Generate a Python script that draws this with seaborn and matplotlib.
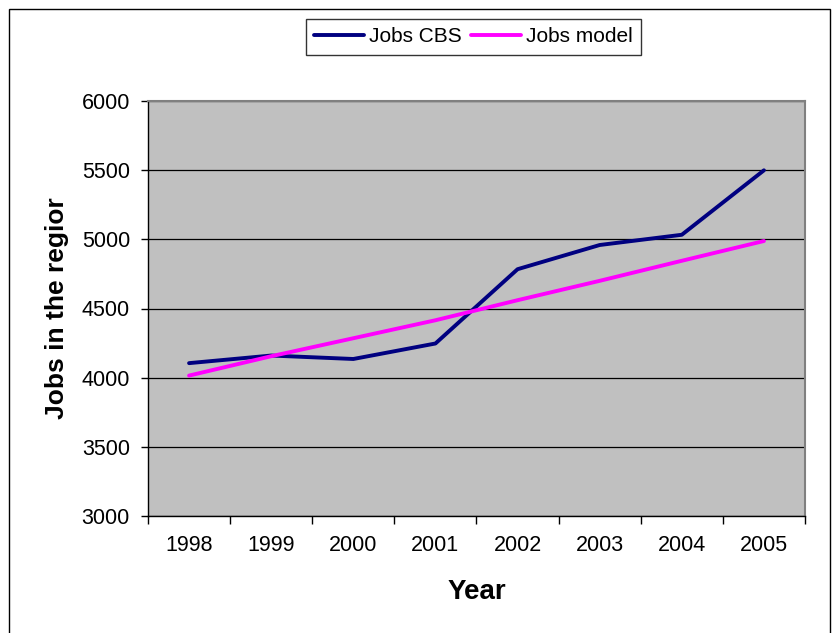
import matplotlib
matplotlib.use("Agg")
import matplotlib.pyplot as plt
import seaborn as sns
import pandas as pd
from matplotlib.patches import Rectangle

years = ["1998", "1999", "2000", "2001", "2002", "2003", "2004", "2005"]
jobs_cbs = [4105, 4160, 4135, 4247, 4784, 4959, 5033, 5499]
jobs_model = [4015, 4155, 4285, 4415, 4560, 4700, 4845, 4988]
series_names = ["Jobs CBS", "Jobs model"]
y_ticks = [3000, 3500, 4000, 4500, 5000, 5500, 6000]

df = pd.DataFrame({
    "Year": years * 2,
    "Jobs": jobs_cbs + jobs_model,
    "Series": [series_names[0]] * len(years) + [series_names[1]] * len(years),
})

sns.set_style("white")
plt.rcParams["font.family"] = ["Liberation Sans", "DejaVu Sans"]
plt.rcParams["text.color"] = "black"
plt.rcParams["axes.labelcolor"] = "black"
plt.rcParams["xtick.color"] = "black"
plt.rcParams["ytick.color"] = "black"

fig = plt.figure(figsize=(8.37, 6.33), dpi=100)
ax = fig.add_axes([148 / 837, 1 - 516 / 633, (805 - 148) / 837, (516 - 101) / 633])
ax.set_facecolor("#C0C0C0")

sns.lineplot(data=df, x="Year", y="Jobs", hue="Series",
             palette={"Jobs CBS": "#000080", "Jobs model": "#FF00FF"},
             linewidth=2.8, sort=False, ax=ax)

ax.set_xlim(-0.5, len(years) - 0.5)
ax.set_ylim(3000, 6000)
ax.set_yticks(y_ticks)
ax.yaxis.grid(True, color="black", linewidth=0.9)
ax.set_axisbelow(True)

# category boundaries get ticks, labels sit in the middle
ax.set_xticks([i - 0.5 for i in range(len(years) + 1)])
ax.set_xticklabels([])
ax.set_xticks(range(len(years)), minor=True)
ax.set_xticklabels(years, minor=True, fontsize=15.5)
ax.tick_params(axis="x", which="major", direction="out", length=6, width=1, bottom=True)
ax.tick_params(axis="x", which="minor", length=0, pad=14)
ax.tick_params(axis="y", direction="out", length=5, width=1, left=True, labelsize=15.5, pad=8)

for side in ["top", "right"]:
    ax.spines[side].set_color("#808080")
    ax.spines[side].set_linewidth(1.5)
for side in ["left", "bottom"]:
    ax.spines[side].set_color("black")
    ax.spines[side].set_linewidth(1.0)

ax.set_xlabel("Year", fontsize=20, fontweight="bold", labelpad=16)
ax.set_ylabel("Jobs in the regior", fontsize=19, fontweight="bold", labelpad=9)

leg = ax.legend(title=None, loc="center", bbox_to_anchor=(473.5 / 837, 1 - 37 / 633),
                bbox_transform=fig.transFigure, ncol=2, fontsize=15,
                frameon=True, fancybox=False, handlelength=2.4,
                handletextpad=0.25, columnspacing=0.45, borderpad=0.4)
leg.get_frame().set_edgecolor("black")
leg.get_frame().set_linewidth(1.0)

fig.patches.append(Rectangle((9 / 837, -0.05), (830 - 9) / 837, 1 - 9 / 633 + 0.05,
                             transform=fig.transFigure, fill=False,
                             edgecolor="black", linewidth=1.0))

fig.savefig("out.png", dpi=100)
